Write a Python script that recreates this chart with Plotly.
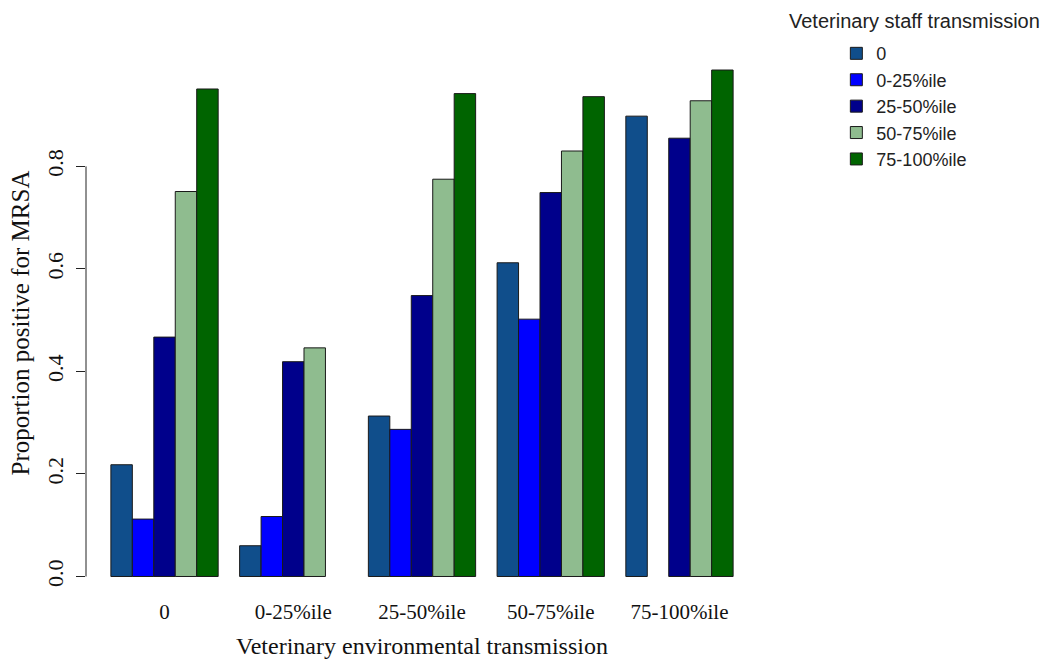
import plotly.graph_objects as go

env_groups = ["0", "0-25%ile", "25-50%ile", "50-75%ile", "75-100%ile"]
staff_levels = ["0", "0-25%ile", "25-50%ile", "50-75%ile", "75-100%ile"]

# proportions per staff level (one list per series), across env groups
staff_0 = [0.218, 0.060, 0.313, 0.612, 0.898]
staff_0_25 = [0.112, 0.117, 0.287, 0.502, None]
staff_25_50 = [0.467, 0.419, 0.548, 0.749, 0.855]
staff_50_75 = [0.751, 0.446, 0.775, 0.830, 0.928]
staff_75_100 = [0.951, None, 0.942, 0.936, 0.988]

series = [staff_0, staff_0_25, staff_25_50, staff_50_75, staff_75_100]
colors = ["#104E8B", "#0000FF", "#00008B", "#8FBC8F", "#006400"]

y_ticks = [0.0, 0.2, 0.4, 0.6, 0.8]

fig = go.Figure()
for name, vals, col in zip(staff_levels, series, colors):
    fig.add_trace(go.Bar(
        x=env_groups, y=vals, name=name,
        marker=dict(color=col, line=dict(color="#1a1a1a", width=1)),
    ))

serif = "Liberation Serif"
sans = "Liberation Sans"

PLOT_T, PLOT_B = 49, 66
plot_h = 663 - PLOT_T - PLOT_B

fig.update_layout(
    width=1056, height=663,
    paper_bgcolor="white", plot_bgcolor="white",
    barmode="group", bargap=1/6, bargroupgap=0,
    margin=dict(l=86, r=298, t=PLOT_T, b=PLOT_B, autoexpand=False),
    showlegend=True,
    legend=dict(
        xref="container", yref="container",
        x=0.792, y=0.947, xanchor="left", yanchor="top",
        font=dict(family=sans, size=18, color="#222222"),
        bgcolor="rgba(0,0,0,0)",
    ),
    xaxis=dict(
        range=[-0.61, 4.61], showline=False, showgrid=False, zeroline=False,
        automargin=False,
        ticks="", ticklabelstandoff=0,
        tickfont=dict(family=serif, size=21, color="#111111"),
        title=dict(text="Veterinary environmental transmission",
                   font=dict(family=serif, size=24, color="#111111"), standoff=14),
    ),
    yaxis=dict(
        range=[-0.04, 1.029], showline=False, showgrid=False, zeroline=False,
        automargin=False,
        tickvals=y_ticks, ticktext=[f"{v:.1f}" for v in y_ticks],
        ticks="outside", ticklen=9, tickcolor="#222222", tickwidth=1,
        tickangle=-90, ticklabelstandoff=4,
        tickfont=dict(family=serif, size=22, color="#111111"),
        title=dict(text="Proportion positive for MRSA",
                   font=dict(family=serif, size=25, color="#111111"), standoff=6),
    ),
    annotations=[dict(
        text="Veterinary staff transmission", xref="paper", yref="paper",
        x=(787 - 86) / 672, y=(663 - PLOT_B - 21) / plot_h,
        xanchor="left", yanchor="middle", showarrow=False,
        font=dict(family=sans, size=20, color="#222222"),
    )],
)

# y-axis line spanning only the tick range, like the reference
fig.add_shape(type="line", xref="paper", yref="y", x0=0, x1=0,
              y0=min(y_ticks), y1=max(y_ticks),
              line=dict(color="#222222", width=1))

fig.write_html("out.html", config={"displayModeBar": False},
               post_script="document.body.style.margin='0';")
